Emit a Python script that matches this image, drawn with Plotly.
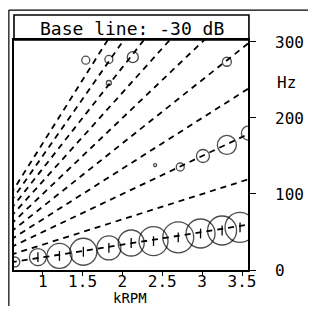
import plotly.graph_objects as go

# ---- data ----
orders = [1, 2, 3, 4, 5, 6, 7, 8, 9, 10]
rpm_span = [0.6, 3.7]  # kRPM, extent of the order lines (clipped by axes)

ord1_rpm = [0.65, 0.94, 1.21, 1.51, 1.83, 2.11, 2.39, 2.70, 2.98, 3.25, 3.475]
ord1_hz = [10.5, 17, 18.5, 24, 29, 35.5, 38, 43, 48, 52, 56]
ord1_size = [10, 17, 25, 27, 24, 26, 29, 31, 29, 29, 30]

ord3_rpm = [2.725, 3.01, 3.31, 3.58]
ord3_hz = [135.5, 150, 164.5, 180]
ord3_size = [8, 13, 19, 14]

hi_rpm = [1.54, 1.83, 2.13, 1.83, 3.31, 2.41]
hi_hz = [276, 277, 280, 246, 274, 138]
hi_size = [8, 8, 11, 5, 9, 3]

x_ticks = [1, 1.5, 2, 2.5, 3, 3.5]
x_ticktext = ["1", "1.5", "2", "2.5", "3", "3.5"]
y_ticks = [0, 100, 200, 300]
y_ticktext = ["0", "100", "200", "300"]

title_text = "Base line: -30 dB"
x_title = "kRPM"
y_unit = "Hz"

FONT = "DejaVu Sans Mono"
X_RANGE = [0.64, 3.575]

fig = go.Figure()

for k in orders:
    fig.add_trace(go.Scatter(
        x=rpm_span, y=[k * r * 1000 / 60 for r in rpm_span],
        mode="lines", line=dict(color="black", width=1.8, dash="6px,5px"),
        hoverinfo="skip", showlegend=False))

for xs, ys, ss in [(ord1_rpm, ord1_hz, ord1_size),
                   (ord3_rpm, ord3_hz, ord3_size),
                   (hi_rpm, hi_hz, hi_size)]:
    fig.add_trace(go.Scatter(
        x=xs, y=ys, mode="markers",
        marker=dict(symbol="circle-open", size=ss, color="black",
                    line=dict(color="black", width=1.3)),
        showlegend=False))

fig.add_trace(go.Scatter(
    x=ord1_rpm[1:], y=ord1_hz[1:], mode="markers",
    marker=dict(symbol="line-ns", size=7, color="black",
                line=dict(color="black", width=1.3)),
    showlegend=False))

# page body has an 8px margin; figure sized to fit the 316x314 window
fig.update_layout(
    width=300, height=298,
    margin=dict(l=6, r=60, t=32, b=36),
    paper_bgcolor="white", plot_bgcolor="white",
    font=dict(family=FONT, color="black", size=16),
    xaxis=dict(range=X_RANGE, tickvals=x_ticks, showticklabels=False,
               ticks="outside", ticklen=4, tickwidth=1.3, tickcolor="black",
               showline=True, linecolor="black", linewidth=1.6,
               mirror=True, showgrid=False, zeroline=False, automargin=False),
    # second x axis only carries the tick labels
    xaxis2=dict(range=X_RANGE, overlaying="x", side="bottom", anchor="free",
                position=0, tickvals=x_ticks, ticktext=x_ticktext,
                ticks="", showline=False, showgrid=False, zeroline=False,
                automargin=False, tickfont=dict(family=FONT, size=16)),
    yaxis=dict(range=[0, 302.6], side="right", tickvals=y_ticks, ticktext=y_ticktext,
               ticks="outside", ticklen=6, tickwidth=1.3, tickcolor="black",
               showline=True, linecolor="black", linewidth=1.6, mirror=True,
               showgrid=False, zeroline=False, ticklabelstandoff=16, automargin=False,
               tickfont=dict(family=FONT, size=16)),
)
fig.add_trace(go.Scatter(x=X_RANGE, y=[None, None], xaxis="x2", yaxis="y",
                         mode="lines", showlegend=False, hoverinfo="skip"))

# title box
fig.add_shape(type="rect", xref="paper", yref="paper",
              x0=0, x1=1.004, y0=1.0, y1=1.109,
              line=dict(color="black", width=1.6))
# outer frame (top and left edges; the rest runs off the page)
fig.add_shape(type="line", xref="paper", yref="paper",
              x0=-0.022, x1=1.4, y0=1.130, y1=1.130,
              line=dict(color="black", width=1.2))
fig.add_shape(type="line", xref="paper", yref="paper",
              x0=-0.022, x1=-0.022, y0=1.130, y1=-0.25,
              line=dict(color="black", width=1.2))

fig.add_annotation(text=title_text, xref="paper", yref="paper",
                   x=0.505, y=1.052, xanchor="center", yanchor="middle",
                   showarrow=False, font=dict(family=FONT, size=18, color="black"))
fig.add_annotation(text=y_unit, xref="paper", yref="y",
                   x=1.115, y=247, xanchor="left", yanchor="middle",
                   showarrow=False, font=dict(family=FONT, size=16, color="black"))
fig.add_annotation(text=x_title, xref="paper", yref="paper",
                   x=0.496, y=-0.1217, xanchor="center", yanchor="middle",
                   showarrow=False, font=dict(family=FONT, size=14, color="black"))

fig.write_html("out.html")
